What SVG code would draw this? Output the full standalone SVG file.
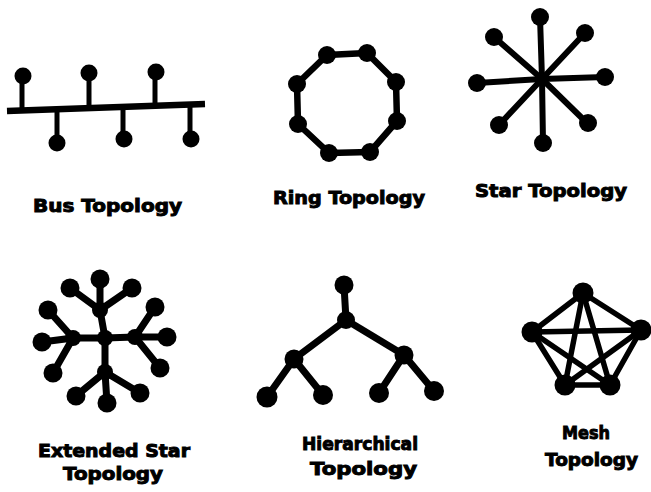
<svg xmlns="http://www.w3.org/2000/svg" width="651" height="492" viewBox="0 0 651 492">
<style>
.bg{fill:#fff}
.e{stroke:#000;stroke-width:6;stroke-linecap:round;fill:none}
.t{stroke:#000;stroke-width:5;fill:none}
.n{fill:#000}
.lbl{font-family:"DejaVu Sans","Liberation Sans",sans-serif;font-weight:bold;font-size:18.5px;fill:#000;stroke:#000;stroke-width:1}
</style>
<rect class="bg" x="0" y="0" width="651" height="492"/>
<g id="connectors">
  <!-- bus -->
  <line class="e" x1="7" y1="111" x2="205" y2="104" style="stroke-linecap:butt;stroke-width:6.5"/>
  <line class="t" x1="22" y1="76" x2="22" y2="110"/>
  <line class="t" x1="89" y1="73" x2="89" y2="108"/>
  <line class="t" x1="155" y1="72" x2="155" y2="106"/>
  <line class="t" x1="57" y1="109" x2="57" y2="143"/>
  <line class="t" x1="123" y1="107" x2="123" y2="139"/>
  <line class="t" x1="190" y1="105" x2="190" y2="139"/>
  <!-- ring -->
  <polygon class="e" points="327,55 367,53 396,82 397,121 370,152 329,153 298,124 297,84" style="stroke-width:6.5;stroke-linejoin:round"/>
  <!-- star -->
  <g class="e">
    <line x1="542" y1="79" x2="540" y2="17"/>
    <line x1="542" y1="79" x2="585" y2="33"/>
    <line x1="542" y1="79" x2="605" y2="77"/>
    <line x1="542" y1="79" x2="587" y2="123"/>
    <line x1="542" y1="79" x2="543" y2="143"/>
    <line x1="542" y1="79" x2="499" y2="125"/>
    <line x1="542" y1="79" x2="477" y2="83"/>
    <line x1="542" y1="79" x2="494" y2="37"/>
  </g>
  <!-- extended star -->
  <g class="e" style="stroke-width:7">
    <line x1="105" y1="338" x2="100" y2="310"/>
    <line x1="105" y1="338" x2="73" y2="338"/>
    <line x1="105" y1="338" x2="135" y2="337"/>
    <line x1="105" y1="338" x2="105" y2="372"/>
    <line x1="100" y1="310" x2="100" y2="279"/>
    <line x1="100" y1="310" x2="70" y2="288"/>
    <line x1="100" y1="310" x2="132" y2="288"/>
    <line x1="73" y1="338" x2="42" y2="342"/>
    <line x1="73" y1="338" x2="48" y2="310"/>
    <line x1="73" y1="338" x2="53" y2="373"/>
    <line x1="135" y1="337" x2="167" y2="337"/>
    <line x1="135" y1="337" x2="155" y2="307"/>
    <line x1="135" y1="337" x2="160" y2="368"/>
    <line x1="105" y1="372" x2="76" y2="396"/>
    <line x1="105" y1="372" x2="107" y2="403"/>
    <line x1="105" y1="372" x2="140" y2="393"/>
  </g>
  <!-- hierarchical -->
  <g class="e" style="stroke-width:7">
    <line x1="344" y1="285" x2="346" y2="320"/>
    <line x1="346" y1="320" x2="294" y2="359"/>
    <line x1="346" y1="320" x2="404" y2="355"/>
    <line x1="294" y1="359" x2="267" y2="397"/>
    <line x1="294" y1="359" x2="323" y2="395"/>
    <line x1="404" y1="355" x2="379" y2="393"/>
    <line x1="404" y1="355" x2="434" y2="391"/>
  </g>
  <!-- mesh -->
  <g class="e" style="stroke-width:5.5">
    <line x1="583" y1="293" x2="532" y2="332"/>
    <line x1="583" y1="293" x2="641" y2="330"/>
    <line x1="583" y1="293" x2="565" y2="385"/>
    <line x1="583" y1="293" x2="610" y2="385"/>
    <line x1="532" y1="332" x2="641" y2="330"/>
    <line x1="532" y1="332" x2="565" y2="385"/>
    <line x1="532" y1="332" x2="610" y2="385"/>
    <line x1="641" y1="330" x2="565" y2="385"/>
    <line x1="641" y1="330" x2="610" y2="385"/>
    <line x1="565" y1="385" x2="610" y2="385"/>
  </g>
</g>
<g id="bus">
  <circle class="n" cx="23" cy="76" r="8.5"/>
  <circle class="n" cx="89" cy="73" r="8.5"/>
  <circle class="n" cx="156" cy="72" r="8.5"/>
  <circle class="n" cx="57" cy="143" r="8.5"/>
  <circle class="n" cx="124" cy="139" r="8.5"/>
  <circle class="n" cx="191" cy="139" r="8.5"/>
  <text class="lbl" x="33" y="212" textLength="149" lengthAdjust="spacingAndGlyphs">Bus Topology</text>
</g>
<g id="ring">
  <circle class="n" cx="327" cy="55" r="9"/>
  <circle class="n" cx="367" cy="53" r="9"/>
  <circle class="n" cx="396" cy="82" r="9"/>
  <circle class="n" cx="397" cy="121" r="9"/>
  <circle class="n" cx="370" cy="152" r="9"/>
  <circle class="n" cx="329" cy="153" r="9"/>
  <circle class="n" cx="298" cy="124" r="9"/>
  <circle class="n" cx="297" cy="84" r="9"/>
  <text class="lbl" x="273" y="204" textLength="152" lengthAdjust="spacingAndGlyphs">Ring Topology</text>
</g>
<g id="star">
  <circle class="n" cx="542" cy="79" r="5"/>
  <circle class="n" cx="540" cy="17" r="9"/>
  <circle class="n" cx="585" cy="33" r="9"/>
  <circle class="n" cx="605" cy="77" r="9"/>
  <circle class="n" cx="588" cy="123" r="9"/>
  <circle class="n" cx="543" cy="143" r="9"/>
  <circle class="n" cx="499" cy="125" r="9"/>
  <circle class="n" cx="477" cy="83" r="9"/>
  <circle class="n" cx="494" cy="37" r="9"/>
  <text class="lbl" x="475" y="197" textLength="152" lengthAdjust="spacingAndGlyphs">Star Topology</text>
</g>
<g id="extended-star">
  <circle class="n" cx="105" cy="338" r="8"/>
  <circle class="n" cx="100" cy="310" r="8"/>
  <circle class="n" cx="73" cy="338" r="8"/>
  <circle class="n" cx="135" cy="337" r="8"/>
  <circle class="n" cx="105" cy="372" r="8"/>
  <circle class="n" cx="100" cy="279" r="9.5"/>
  <circle class="n" cx="70" cy="288" r="9.5"/>
  <circle class="n" cx="132" cy="288" r="9.5"/>
  <circle class="n" cx="42" cy="342" r="9.5"/>
  <circle class="n" cx="48" cy="310" r="9.5"/>
  <circle class="n" cx="53" cy="373" r="9.5"/>
  <circle class="n" cx="167" cy="337" r="9.5"/>
  <circle class="n" cx="155" cy="307" r="9.5"/>
  <circle class="n" cx="160" cy="368" r="9.5"/>
  <circle class="n" cx="76" cy="396" r="9.5"/>
  <circle class="n" cx="107" cy="403" r="9.5"/>
  <circle class="n" cx="140" cy="393" r="9.5"/>
  <text class="lbl" x="38" y="457" textLength="152" lengthAdjust="spacingAndGlyphs">Extended Star</text>
  <text class="lbl" x="63" y="480" textLength="100" lengthAdjust="spacingAndGlyphs">Topology</text>
</g>
<g id="hierarchical">
  <circle class="n" cx="344" cy="285" r="9.5"/>
  <circle class="n" cx="346" cy="320" r="9"/>
  <circle class="n" cx="294" cy="359" r="9.5"/>
  <circle class="n" cx="404" cy="355" r="9.5"/>
  <circle class="n" cx="267" cy="397" r="10.5"/>
  <circle class="n" cx="323" cy="395" r="10"/>
  <circle class="n" cx="379" cy="393" r="10"/>
  <circle class="n" cx="434" cy="391" r="10"/>
  <text class="lbl" x="302" y="450" textLength="116" lengthAdjust="spacingAndGlyphs">Hierarchical</text>
  <text class="lbl" x="310" y="475" textLength="107" lengthAdjust="spacingAndGlyphs">Topology</text>
</g>
<g id="mesh">
  <circle class="n" cx="583" cy="293" r="10.5"/>
  <circle class="n" cx="532" cy="332" r="10.5"/>
  <circle class="n" cx="641" cy="330" r="10.5"/>
  <circle class="n" cx="565" cy="385" r="10.5"/>
  <circle class="n" cx="610" cy="385" r="10.5"/>
  <text class="lbl" x="562" y="439" textLength="48" lengthAdjust="spacingAndGlyphs">Mesh</text>
  <text class="lbl" x="545" y="466" textLength="93" lengthAdjust="spacingAndGlyphs">Topology</text>
</g>
</svg>
